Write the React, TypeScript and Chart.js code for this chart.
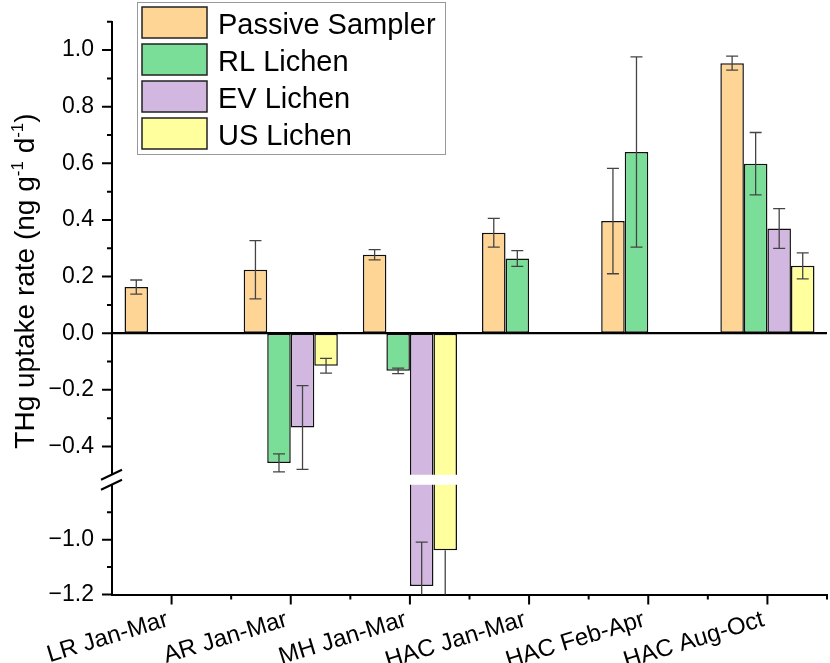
import { useEffect, useRef } from 'react';
import { Chart, registerables, LinearScale } from 'chart.js';

const categories = ['LR Jan-Mar', 'AR Jan-Mar', 'MH Jan-Mar', 'HAC Jan-Mar', 'HAC Feb-Apr', 'HAC Aug-Oct'];

const passive = [0.163, 0.224, 0.277, 0.355, 0.396, 0.954];
const passiveErr = [0.025, 0.103, 0.018, 0.051, 0.186, 0.025];

const rlLichen = [null, -0.458, -0.133, 0.264, 0.64, 0.599];
const rlErr = [0, 0.032, 0.01, 0.028, 0.336, 0.11];

const evLichen = [null, -0.333, -1.169, null, null, 0.37];
const evErr = [0, 0.148, 0.16, 0, 0, 0.07];

const usLichen = [null, -0.115, -1.039, null, null, 0.238];
const usErrLow = [0, 0.026, 0.25, 0, 0, 0.046];
const usErrHigh = [0, 0.026, 0, 0, 0, 0.046];

const yLabelTicks = [-1.2, -1.0, -0.4, -0.2, 0, 0.2, 0.4, 0.6, 0.8, 1.0];
const yMinorTicks = [-1.1, -0.9, -0.3, -0.1, 0.1, 0.3, 0.5, 0.7, 0.9, 1.1];

// broken axis: values between BREAK_LOW and BREAK_HIGH are squeezed into a small gap
const BREAK_LOW = -0.8;
const BREAK_HIGH = -0.5;
const BREAK_GAP = 10;
const TOP_SHARE = 0.805;

const FONT = "Arial, 'Liberation Sans', sans-serif";

class BrokenScale extends LinearScale {
    static id = 'broken';

    buildTicks() {
        super.buildTicks();
        return yLabelTicks.map(v => ({ value: v }));
    }

    getPixelForValue(value: number) {
        const h = this.bottom - this.top - BREAK_GAP;
        const hTop = h * TOP_SHARE;
        const hBot = h - hTop;
        if (value >= BREAK_HIGH) {
            return this.top + ((this.max - value) / (this.max - BREAK_HIGH)) * hTop;
        }
        if (value <= BREAK_LOW) {
            return this.bottom - ((value - this.min) / (BREAK_LOW - this.min)) * hBot;
        }
        return this.top + hTop + ((BREAK_HIGH - value) / (BREAK_HIGH - BREAK_LOW)) * BREAK_GAP;
    }

    getValueForPixel(pixel: number) {
        const h = this.bottom - this.top - BREAK_GAP;
        const hTop = h * TOP_SHARE;
        const hBot = h - hTop;
        if (pixel <= this.top + hTop) {
            return this.max - ((pixel - this.top) / hTop) * (this.max - BREAK_HIGH);
        }
        if (pixel >= this.top + hTop + BREAK_GAP) {
            return this.min + ((this.bottom - pixel) / hBot) * (BREAK_LOW - this.min);
        }
        return BREAK_HIGH - ((pixel - this.top - hTop) / BREAK_GAP) * (BREAK_HIGH - BREAK_LOW);
    }
}

Chart.register(...registerables, BrokenScale);

const decorations = {
    id: 'decorations',
    afterDatasetsDraw(chart: any) {
        const { ctx, chartArea: area } = chart;
        const y = chart.scales.y;
        const x = chart.scales.x;

        // error bars
        ctx.save();
        ctx.beginPath();
        ctx.rect(area.left, area.top, area.right - area.left, area.bottom - area.top);
        ctx.clip();
        ctx.strokeStyle = '#444';
        ctx.lineWidth = 1.3;
        chart.data.datasets.forEach((ds: any, i: number) => {
            const meta = chart.getDatasetMeta(i);
            meta.data.forEach((bar: any, j: number) => {
                const v = ds.data[j];
                if (v == null) return;
                const lo = ds.errLow[j];
                const hi = ds.errHigh[j];
                if (!lo && !hi) return;
                const yLo = y.getPixelForValue(v - lo);
                const yHi = y.getPixelForValue(v + hi);
                ctx.beginPath();
                ctx.moveTo(bar.x, yHi);
                ctx.lineTo(bar.x, yLo);
                if (hi) {
                    ctx.moveTo(bar.x - 6, yHi);
                    ctx.lineTo(bar.x + 6, yHi);
                }
                if (lo) {
                    ctx.moveTo(bar.x - 6, yLo);
                    ctx.lineTo(bar.x + 6, yLo);
                }
                ctx.stroke();
            });
        });
        ctx.restore();

        ctx.save();
        // zero line
        const y0 = y.getPixelForValue(0);
        ctx.strokeStyle = '#000';
        ctx.lineWidth = 2.2;
        ctx.beginPath();
        ctx.moveTo(area.left, y0);
        ctx.lineTo(area.right, y0);
        ctx.stroke();

        // break gap
        const gTop = y.getPixelForValue(BREAK_HIGH);
        const gBot = y.getPixelForValue(BREAK_LOW);
        ctx.fillStyle = '#fff';
        ctx.fillRect(area.left - 2, gTop, area.right - area.left + 2, gBot - gTop);
        ctx.lineWidth = 2;
        ctx.beginPath();
        [gTop, gBot].forEach(gy => {
            ctx.moveTo(area.left - 11, gy + 5);
            ctx.lineTo(area.left + 10, gy - 5);
        });
        ctx.stroke();

        // y tick marks
        ctx.lineWidth = 2;
        ctx.beginPath();
        yLabelTicks.forEach(v => {
            const py = y.getPixelForValue(v);
            ctx.moveTo(area.left, py);
            ctx.lineTo(area.left - 10, py);
        });
        yMinorTicks.forEach(v => {
            const py = y.getPixelForValue(v);
            ctx.moveTo(area.left, py);
            ctx.lineTo(area.left - 5, py);
        });

        // x tick marks
        const step = x.getPixelForValue(1) - x.getPixelForValue(0);
        categories.forEach((_, i) => {
            const px = x.getPixelForValue(i);
            ctx.moveTo(px, area.bottom);
            ctx.lineTo(px, area.bottom + 10);
            ctx.moveTo(px + step / 2, area.bottom);
            ctx.lineTo(px + step / 2, area.bottom + 5);
        });
        ctx.stroke();

        // y axis title with superscripts
        const parts: [string, boolean][] = [
            ['THg uptake rate (ng g', false],
            ['-1', true],
            [' d', false],
            ['-1', true],
            [')', false],
        ];
        const big = `28px ${FONT}`;
        const small = `17px ${FONT}`;
        let total = 0;
        parts.forEach(([t, sup]) => {
            ctx.font = sup ? small : big;
            total += ctx.measureText(t).width;
        });
        ctx.translate(34, 281);
        ctx.rotate(-Math.PI / 2);
        ctx.fillStyle = '#000';
        ctx.textBaseline = 'alphabetic';
        let cx = -total / 2;
        parts.forEach(([t, sup]) => {
            ctx.font = sup ? small : big;
            ctx.fillText(t, cx, sup ? -11 : 0);
            cx += ctx.measureText(t).width;
        });
        ctx.restore();

        // legend
        ctx.save();
        ctx.strokeStyle = '#999';
        ctx.lineWidth = 1;
        ctx.strokeRect(137.5, 2.5, 308, 152);
        ctx.font = `29px ${FONT}`;
        ctx.textBaseline = 'alphabetic';
        chart.data.datasets.forEach((ds: any, i: number) => {
            const top = 7 + i * 37;
            ctx.fillStyle = ds.backgroundColor;
            ctx.fillRect(142, top, 65, 31);
            ctx.strokeStyle = '#222';
            ctx.lineWidth = 1.5;
            ctx.strokeRect(142, top, 65, 31);
            ctx.fillStyle = '#000';
            ctx.fillText(ds.label, 218, top + 27);
        });
        ctx.restore();
    },
};

export default function App() {
    const canvasRef = useRef<HTMLCanvasElement>(null);

    useEffect(() => {
        if (!canvasRef.current) return;
        const series = [
            { label: 'Passive Sampler', data: passive, color: '#FFD596', errLow: passiveErr, errHigh: passiveErr },
            { label: 'RL Lichen', data: rlLichen, color: '#7ADE99', errLow: rlErr, errHigh: rlErr },
            { label: 'EV Lichen', data: evLichen, color: '#D2B8E0', errLow: evErr, errHigh: evErr },
            { label: 'US Lichen', data: usLichen, color: '#FFFF9E', errLow: usErrLow, errHigh: usErrHigh },
        ];
        const chart = new Chart(canvasRef.current, {
            type: 'bar',
            data: {
                labels: categories,
                datasets: series.map(s => ({
                    label: s.label,
                    data: s.data,
                    backgroundColor: s.color,
                    borderColor: '#111',
                    borderWidth: 1.5,
                    borderSkipped: false,
                    categoryPercentage: 0.79,
                    barPercentage: 1,
                    errLow: s.errLow,
                    errHigh: s.errHigh,
                })) as any,
            },
            options: {
                animation: false,
                responsive: true,
                maintainAspectRatio: false,
                layout: { padding: { top: 18, right: 3, left: 0, bottom: 0 } },
                plugins: {
                    legend: { display: false },
                    tooltip: { enabled: false },
                },
                scales: {
                    x: {
                        type: 'category',
                        offset: true,
                        grid: { display: true, drawOnChartArea: false, tickLength: 10, tickColor: 'rgba(0,0,0,0)' },
                        border: { display: true, color: '#000', width: 2 },
                        ticks: {
                            color: '#000',
                            font: { family: FONT, size: 24 },
                            minRotation: 17,
                            maxRotation: 17,
                            autoSkip: false,
                            padding: 1,
                            labelOffset: -4,
                        },
                        afterFit: (s: any) => { s.height = 68.5; },
                    },
                    y: {
                        type: 'broken' as any,
                        min: -1.2,
                        max: 1.1,
                        grid: { display: true, drawOnChartArea: false, tickLength: 10, tickColor: 'rgba(0,0,0,0)' },
                        border: { display: true, color: '#000', width: 2 },
                        ticks: {
                            color: '#000',
                            font: { family: FONT, size: 23 },
                            padding: 8,
                            callback: (v: any) => {
                                const n = Number(v);
                                return (n < 0 ? '\u2212' : '') + Math.abs(n).toFixed(1);
                            },
                        },
                        afterFit: (s: any) => { s.width = 112; },
                    },
                },
            },
            plugins: [decorations],
        });
        return () => chart.destroy();
    }, []);

    return (
        <div style={{ position: 'fixed', left: 0, top: 0, width: 830, height: 663, background: '#fff' }}>
            <canvas ref={canvasRef} />
        </div>
    );
}
